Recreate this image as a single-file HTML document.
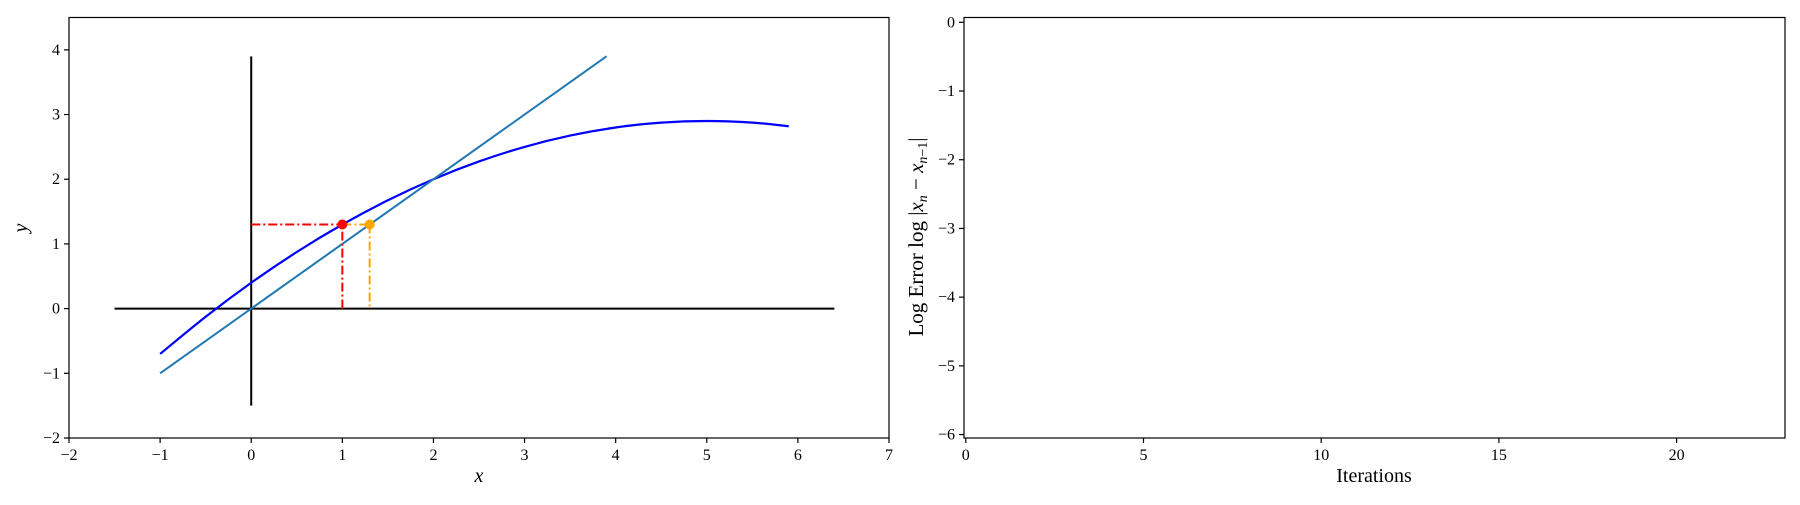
<!DOCTYPE html>
<html><head><meta charset="utf-8"><style>
html,body{margin:0;padding:0;background:#fff;}
svg text{font-family:"Liberation Serif",serif;fill:#000;}
</style></head><body>
<svg id="c" width="1800" height="500" viewBox="0 0 1800 500" xmlns="http://www.w3.org/2000/svg"></svg>
<script>
const curveX=[-1,-0.5,0,0.5,1,1.5,2,2.5,3,3.5,4,4.5,5,5.5,5.9];
const curveY=[-0.7,-0.125,0.4,0.875,1.3,1.675,2.0,2.275,2.5,2.675,2.8,2.875,2.9,2.875,2.819];
const identX=[-1,3.9];
const redPoint=[1,1.3];
const orangePoint=[1.3,1.3];
const leftXTicks=[-2,-1,0,1,2,3,4,5,6,7];
const leftYTicks=[-2,-1,0,1,2,3,4];
const rightXTicks=[0,5,10,15,20];
const rightYTicks=[0,-1,-2,-3,-4,-5,-6];

const NS="http://www.w3.org/2000/svg";
const svg=document.getElementById('c');
function mk(t,a,p){const e=document.createElementNS(NS,t);for(const k in a)e.setAttribute(k,a[k]);(p||svg).appendChild(e);return e;}
const L={x0:69,x1:889,y0:17.5,y1:438,xmin:-2,xmax:7,ymin:-2,ymax:4.5};
const R={x0:964,x1:1785,y0:17.5,y1:438,xmin:-0.05,xmax:23.05,ymin:-6.05,ymax:0.07};
const sx=(A,v)=>A.x0+(v-A.xmin)/(A.xmax-A.xmin)*(A.x1-A.x0);
const sy=(A,v)=>A.y1-(v-A.ymin)/(A.ymax-A.ymin)*(A.y1-A.y0);
function fmt(v){return v<0?'\u2212'+(-v):''+v;}
function smooth(pts){
  let d='M'+pts[0][0]+','+pts[0][1];
  for(let i=0;i<pts.length-1;i++){
    const p0=pts[Math.max(0,i-1)],p1=pts[i],p2=pts[i+1],p3=pts[Math.min(pts.length-1,i+2)];
    const c1x=p1[0]+(p2[0]-p0[0])/6,c1y=p1[1]+(p2[1]-p0[1])/6;
    const c2x=p2[0]-(p3[0]-p1[0])/6,c2y=p2[1]-(p3[1]-p1[1])/6;
    d+=' C'+c1x+','+c1y+' '+c2x+','+c2y+' '+p2[0]+','+p2[1];
  }
  return d;
}

const gL=mk('g',{});


function line(g,x1,y1,x2,y2,st,w,dash){const e=mk('line',{x1,y1,x2,y2,stroke:st,'stroke-width':w},g);if(dash)e.setAttribute('stroke-dasharray',dash);return e;}
let e;
e=line(gL,sx(L,-1.5),sy(L,0),sx(L,6.4),sy(L,0),'#000',2);

e=line(gL,sx(L,0),sy(L,-1.5),sx(L,0),sy(L,3.9),'#000',2);

e=mk('path',{d:smooth(curveX.map((x,i)=>[sx(L,x),sy(L,curveY[i])])),fill:'none',stroke:'#0000ff','stroke-width':2.2},gL);

e=line(gL,sx(L,identX[0]),sy(L,identX[0]),sx(L,identX[1]),sy(L,identX[1]),'#1f77b4',2);

const dd='9,3,2,3';
e=line(gL,sx(L,0),sy(L,redPoint[1]),sx(L,redPoint[0]),sy(L,redPoint[1]),'#ff0000',2,dd);

e=line(gL,sx(L,redPoint[0]),sy(L,0),sx(L,redPoint[0]),sy(L,redPoint[1]),'#ff0000',2,dd);

e=line(gL,sx(L,redPoint[0]),sy(L,orangePoint[1]),sx(L,orangePoint[0]),sy(L,orangePoint[1]),'#ffa500',2,dd);

e=line(gL,sx(L,orangePoint[0]),sy(L,orangePoint[1]),sx(L,orangePoint[0]),sy(L,0),'#ffa500',2,dd);

e=mk('circle',{cx:sx(L,redPoint[0]),cy:sy(L,redPoint[1]),r:5,fill:'#ff0000'},gL);

e=mk('circle',{cx:sx(L,orangePoint[0]),cy:sy(L,orangePoint[1]),r:5,fill:'#ffa500'},gL);


function frame(A,g,xt,yt,name){
  e=mk('rect',{x:A.x0,y:A.y0,width:A.x1-A.x0,height:A.y1-A.y0,fill:'none',stroke:'#000','stroke-width':1.2},g);
  
  xt.forEach(v=>{const x=sx(A,v);line(g,x,A.y1,x,A.y1+5,'#000',1.2);
    const t=mk('text',{x:x,y:A.y1+22,'text-anchor':'middle','font-size':16},g);t.textContent=fmt(v);
    });
  yt.forEach(v=>{const y=sy(A,v);line(g,A.x0-5,y,A.x0,y,'#000',1.2);
    const t=mk('text',{x:A.x0-9,y:y+5,'text-anchor':'end','font-size':16},g);t.textContent=fmt(v);
    });
}
frame(L,gL,leftXTicks,leftYTicks,'left');
e=mk('text',{x:479,y:482,'text-anchor':'middle','font-size':20,'font-style':'italic'},gL);e.textContent='x';

e=mk('text',{x:0,y:0,'text-anchor':'middle','font-size':20,'font-style':'italic',transform:'translate(27,228) rotate(-90)'},gL);e.textContent='y';


const gR=mk('g',{});


frame(R,gR,rightXTicks,rightYTicks,'right');
e=mk('text',{x:1374,y:482,'text-anchor':'middle','font-size':20},gR);e.textContent='Iterations';

e=mk('text',{x:0,y:0,'text-anchor':'middle','font-size':21,transform:'translate(923,237) rotate(-90)'},gR);
e.innerHTML='Log Error log |<tspan font-style="italic">x</tspan><tspan font-size="14" font-style="italic" dy="4">n</tspan><tspan dy="-4"> \u2212 </tspan><tspan font-style="italic">x</tspan><tspan font-size="14" dy="4"><tspan font-style="italic">n</tspan>\u22121</tspan><tspan dy="-4">|</tspan>';

</script>
</body></html>
